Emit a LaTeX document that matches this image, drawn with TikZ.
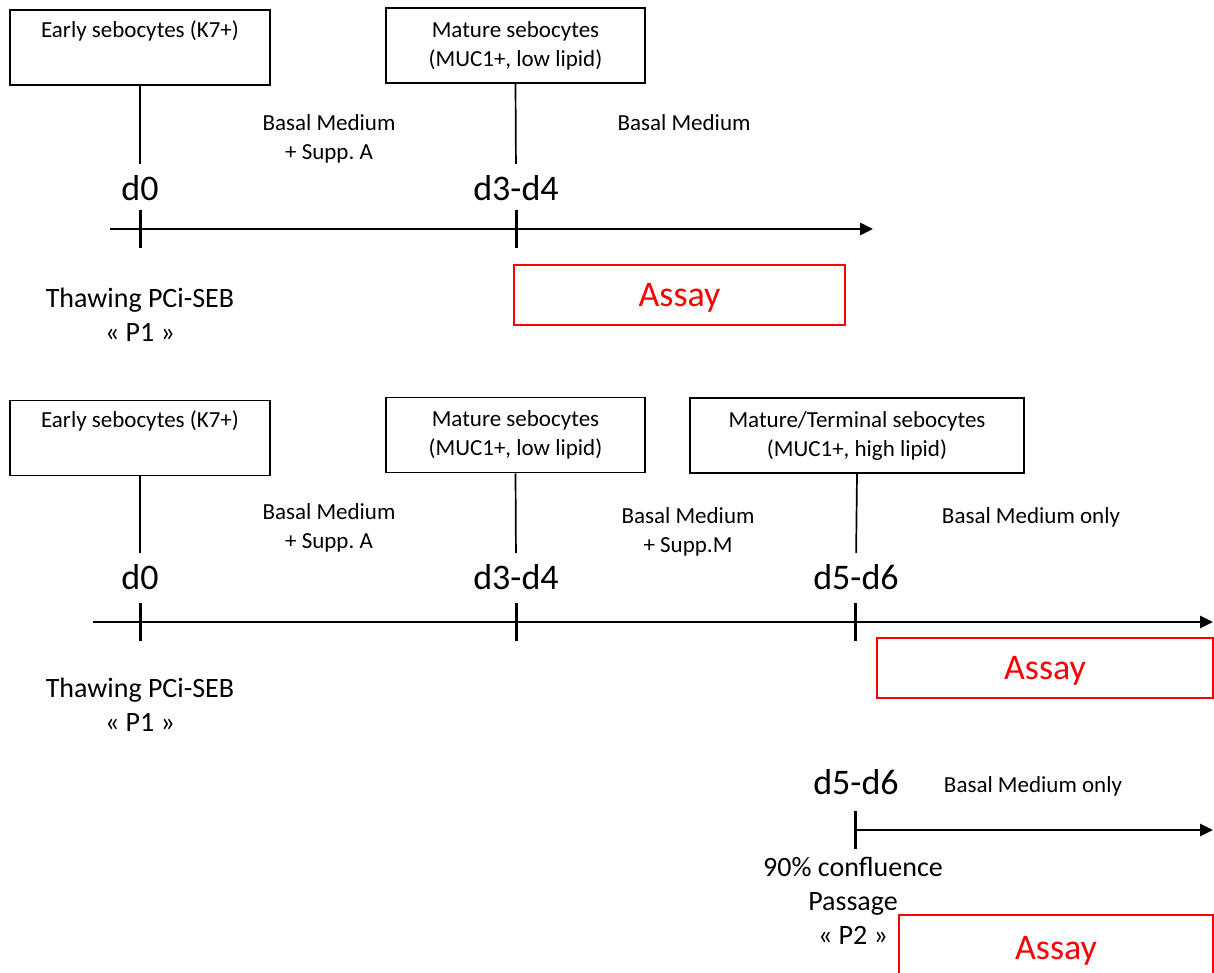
\documentclass[tikz,border=0pt]{standalone}
\usepackage{fontspec}
\setmainfont{Carlito}
\usetikzlibrary{arrows.meta}
\begin{document}
\begin{tikzpicture}[x=1pt,y=-1pt,%
    every node/.style={inner sep=0pt,align=center}, stage/.style={draw=black,line
      width=1.8pt,minimum height=75pt,font=\fontsize{23}{29}\selectfont},%
    med/.style={font=\fontsize{23}{29}\selectfont},
    day/.style={font=\fontsize{36}{40}\selectfont,anchor=base},
    note/.style={font=\fontsize{28}{34}\selectfont},
    assay/.style={draw=red,line width=1.8pt,text=red,text depth=0pt,minimum
      height=60pt,font=\fontsize{36}{40}\selectfont},%
    link/.style={line width=1.7pt,shorten >=11pt},
    tick/.style={line width=3pt},
    axis/.style={line width=2.8pt,-{Triangle[length=13pt,width=12pt]}}]
  \useasboundingbox (0,0) rectangle (1214,972); \clip (0,0) rectangle (1214,972);
  % first timeline
  \node[stage,minimum width=260pt] (early1) at (140,47.5) {Early sebocytes (K7+)\\\strut};
  \node[stage,minimum width=259pt] (mature1) at (515.5,45.5) {Mature sebocytes\\(MUC1+, low lipid)};
  \node[day] (d01) at (140,200) {d0}; \node[day] (d341) at (516,200) {d3-d4};
  \node[med] (med1a) at (329,139) {Basal Medium\\+ Supp.\ A};
  \node[med,anchor=base] (med1b) at (684,130) {Basal Medium};
  \node[note] (thaw1) at (140,315) {Thawing PCi-SEB\\« P1 »};
  \node[assay,minimum width=331pt] (assay1) at (679.5,295) {Assay};
  \coordinate (ax1s) at (110,229); \coordinate (ax1e) at (873,229);
  \coordinate (t01) at (140,229); \coordinate (t341) at (516,229);
  \draw[link] (early1.south) -- (d01.north); \draw[link] (mature1.south) -- (d341.north);
  \draw[axis] (ax1s) -- (ax1e);
  \draw[tick] ([yshift=19pt]t01) -- ([yshift=-19pt]t01);
  \draw[tick] ([yshift=19pt]t341) -- ([yshift=-19pt]t341);
  % second timeline
  \node[stage,minimum width=260pt] (early2) at (140,438) {Early sebocytes (K7+)\\\strut};
  \node[stage,minimum width=259pt] (mature2) at (515.5,435) {Mature sebocytes\\(MUC1+, low lipid)};
  \node[stage,minimum width=334pt] (term2) at (857,435.5) {Mature/Terminal sebocytes\\(MUC1+, high lipid)};
  \node[day] (d02) at (140,589) {d0}; \node[day] (d342) at (516,589) {d3-d4};
  \node[day] (d562) at (856,589) {d5-d6};
  \node[med] (med2a) at (329,528) {Basal Medium\\+ Supp.\ A};
  \node[med] (med2b) at (688,532) {Basal Medium\\+ Supp.M};
  \node[med,anchor=base] (med2c) at (1031,523) {Basal Medium only};
  \node[note] (thaw2) at (140,705) {Thawing PCi-SEB\\« P1 »};
  \node[assay,minimum width=336pt] (assay2) at (1045,668) {Assay};
  \coordinate (ax2s) at (93,622); \coordinate (ax2e) at (1213,622);
  \coordinate (t02) at (140,622); \coordinate (t342) at (516,622);
  \coordinate (t562) at (855,622);
  \draw[link] (early2.south) -- (d02.north); \draw[link] (mature2.south) -- (d342.north);
  \draw[link] (term2.south) -- (d562.north);
  \draw[axis] (ax2s) -- (ax2e);
  \draw[tick] ([yshift=19pt]t02) -- ([yshift=-19pt]t02);
  \draw[tick] ([yshift=19pt]t342) -- ([yshift=-19pt]t342);
  \draw[tick] ([yshift=19pt]t562) -- ([yshift=-19pt]t562);
  % third timeline
  \node[day] (d563) at (856,794) {d5-d6};
  \node[med,anchor=base] (med3) at (1033,792) {Basal Medium only};
  \node[note] (pass3) at (853,901) {90\% confluence\\Passage\\« P2 »};
  \node[assay,minimum width=314pt,minimum height=66pt] (assay3) at (1056,948) {Assay};
  \coordinate (t563) at (855,830); \coordinate (ax3e) at (1213,830);
  \draw[axis] (t563) -- (ax3e);
  \draw[tick] ([yshift=19pt]t563) -- ([yshift=-19pt]t563);
\end{tikzpicture}
\end{document}
